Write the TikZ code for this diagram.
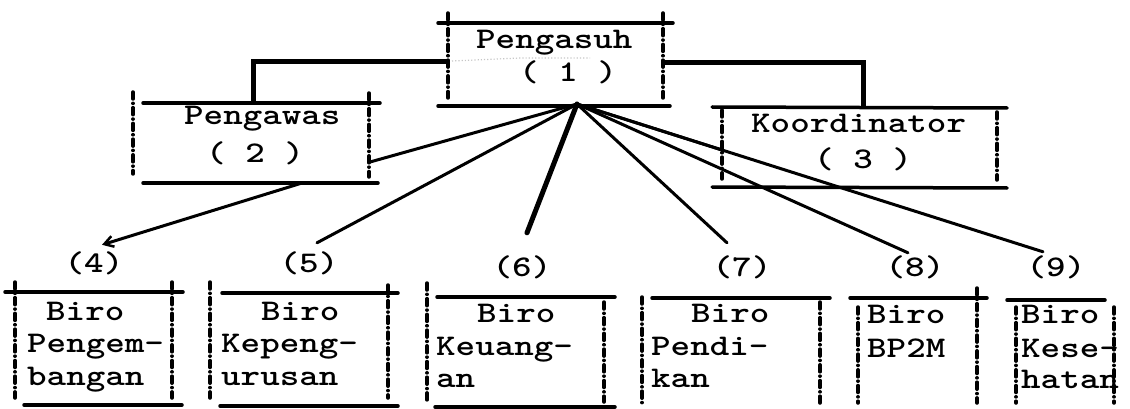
\documentclass[tikz,border=0pt]{standalone}
\usepackage{fontspec}
\usepackage{graphicx}
\usetikzlibrary{arrows.meta}
% typewriter face: bold Latin Modern Mono widened to a ~19.5pt pitch
\newcommand{\tw}[1]{\scalebox{1.24}[1]{#1}}
\begin{document}
\begin{tikzpicture}[x=1pt,y=-1pt,
  rule/.style={line width=3.5pt,line cap=round},
  side/.style={line width=3.5pt,line cap=round,
    dash pattern=on 7pt off 4.3pt on 0.1pt off 4.3pt},
  link/.style={line width=3pt,line cap=round},
  heavy/.style={line width=5pt,line cap=round},
  txt/.style={font=\ttfamily\bfseries\fontsize{30}{33}\selectfont,
    inner sep=0pt,anchor=base west},
  lbl/.style={font=\ttfamily\bfseries\fontsize{30}{33}\selectfont,
    inner sep=0pt,anchor=base,text height=20pt,text depth=6pt}]
\useasboundingbox (0,0) rectangle (1130,409);

% ---- box frames: ruled top/bottom, dotted "!" sides ----
% (1) Pengasuh
\draw[rule] (438,23) -- (673,23);
\draw[rule] (438,106) -- (670,106);
\draw[side] (448,13) -- (448,98);
\draw[side] (663,13) -- (663,98);
% (2) Pengawas
\draw[rule] (143,103) -- (380,103);
\draw[rule] (143,183) -- (378,183);
\draw[side] (133,92) -- (133,174);
\draw[side] (369,93) -- (369,177);
% (3) Koordinator
\draw[rule] (712,107) -- (1007,108);
\draw[rule] (712,187) -- (1007,188);
\draw[side] (722,110) -- (722,179);
\draw[side] (997,112) -- (997,180);
% (4)
\draw[rule] (5,292) -- (183,292);
\draw[rule] (24,405) -- (182,405);
\draw[side] (15,282) -- (15,398);
\draw[side] (172,282) -- (172,398);
% (5)
\draw[rule] (222,293) -- (398,293);
\draw[rule] (220,406) -- (398,406);
\draw[side] (210,282) -- (210,398);
\draw[side] (388,285) -- (388,398);
% (6)
\draw[rule] (437,297) -- (615,297);
\draw[rule] (435,407) -- (615,407);
\draw[side] (427,283) -- (427,402);
\draw[side] (604,302) -- (604,402);
% (7)
\draw[rule] (652,298) -- (830,298);
\draw[side] (642,297) -- (642,403);
\draw[side] (820,302) -- (820,403);
% (8)
\draw[rule] (850,298) -- (987,298);
\draw[side] (858,307) -- (858,403);
\draw[side] (977,288) -- (977,403);
% (9)
\draw[rule] (1007,300) -- (1105,300);
\draw[side] (1016,307) -- (1016,403);
\draw[side] (1114,307) -- (1114,403);

% ---- attachment points ----
\coordinate (hub) at (577,104);
\coordinate (p1l) at (448,62);
\coordinate (p1r) at (663,63);
\coordinate (p2t) at (253,103);
\coordinate (p2r) at (370,162);
\coordinate (p2b) at (302,183);
\coordinate (p3t) at (863,107);
\coordinate (p3l) at (722,150);

% faint pencil trace inside box 1
\draw[gray!45,line width=1.2pt,dotted] (452,61) -- (520,58) -- (590,58);

% ---- texts ----
\node[txt] (t1a) at (476,49) {\tw{Pengasuh}};
\node[txt] (t1b) at (519,82) {\tw{( 1 )}};
\node[txt] (t2a) at (184,125) {\tw{Pengawas}};
\node[txt] (t2b) at (206,163) {\tw{( 2 )}};
\node[txt] (t3a) at (751,133) {\tw{Koordinator}};
\node[txt] (t3b) at (814,168) {\tw{( 3 )}};

\node[txt] (t4a) at (46,320) {\tw{Biro}};
\node[txt] (t4b) at (27,352) {\tw{Pengem-}};
\node[txt] (t4c) at (27,385) {\tw{bangan}};
\node[txt] (t5a) at (261,320) {\tw{Biro}};
\node[txt] (t5b) at (221,352) {\tw{Kepeng-}};
\node[txt] (t5c) at (221,385) {\tw{urusan}};
\node[txt] (t6a) at (477,322) {\tw{Biro}};
\node[txt] (t6b) at (436,355) {\tw{Keuang-}};
\node[txt] (t6c) at (436,387) {\tw{an}};
\node[txt] (t7a) at (691,322) {\tw{Biro}};
\node[txt] (t7b) at (651,355) {\tw{Pendi-}};
\node[txt] (t7c) at (651,387) {\tw{kan}};
\node[txt] (t8a) at (867,323) {\tw{Biro}};
\node[txt] (t8b) at (867,357) {\tw{BP2M}};
\node[txt] (t9a) at (1021,323) {\tw{Biro}};
\node[txt] (t9b) at (1021,357) {\tw{Kese-}};
\node[txt] (t9c) at (1021,388) {\tw{hatan}};

\node[lbl] (l4) at (94,272) {\tw{(4)}};
\node[lbl] (l5) at (309,272) {\tw{(5)}};
\node[lbl] (l6) at (522,276) {\tw{(6)}};
\node[lbl] (l7) at (742,276) {\tw{(7)}};
\node[lbl] (l8) at (915,276) {\tw{(8)}};
\node[lbl] (l9) at (1056,276) {\tw{(9)}};

% ---- connectors ----
\draw[heavy,line cap=butt] (p2t) |- (p1l);
\draw[heavy,line cap=butt] (p1r) -| (p3t);
\draw[link] (hub) -- (p2r);
\draw[link] (hub) -- ([shift={(8,-9)}]l5.north);
\draw[heavy] (hub) -- ([shift={(5,-23)}]l6.north);
\draw[link] (hub) -- ([shift={(-15,-13)}]l7.north);
\draw[link] (hub) -- (p3l);
\draw[link] (hub) -- ([shift={(-7,-3)}]l8.north);
\draw[link] (hub) -- ([shift={(-13,-4)}]l9.north);
\draw[link,-{Straight Barb[length=9pt,width=11pt,line width=2.5pt]}]
  (p2b) -- ([shift={(8,-7)}]l4.north);
\end{tikzpicture}
\end{document}
